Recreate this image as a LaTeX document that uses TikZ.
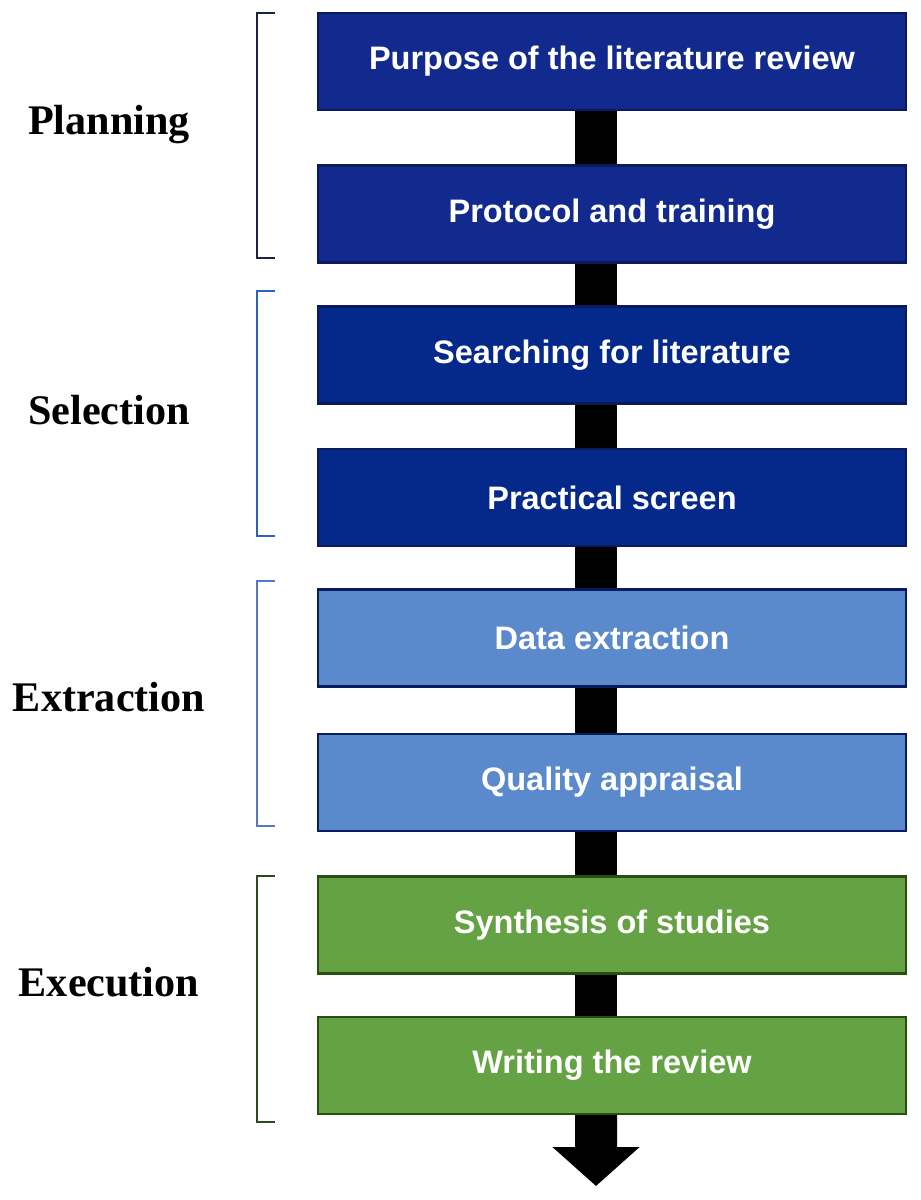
\documentclass[tikz,border=0pt]{standalone}
\usepackage{fontspec}
\setmainfont{Liberation Serif}
\setsansfont{Liberation Sans}
\usepackage{xcolor}
\usepackage{tikz}
\usetikzlibrary{arrows.meta, positioning}

\definecolor{planblue}{HTML}{122A8D}
\definecolor{selblue}{HTML}{04298A}
\definecolor{extblue}{HTML}{5A8ACB}
\definecolor{exegreen}{HTML}{65A243}
\definecolor{navyline}{HTML}{0A1A5C}
\definecolor{greenline}{HTML}{2A4D14}
\definecolor{brkplan}{HTML}{1C2340}
\definecolor{brksel}{HTML}{2B63BA}
\definecolor{brkext}{HTML}{5677C6}
\definecolor{brkexe}{HTML}{2E4A1C}

\begin{document}
\begin{tikzpicture}[
			x=0.02cm, y=-0.02cm,
			box/.style={minimum width=11.76cm, minimum height=1.94cm, inner sep=0pt,
				line width=1.2pt, text=white,
				font=\sffamily\bfseries\fontsize{18.5}{22}\selectfont},
			plan/.style={box, fill=planblue, draw=navyline},
			sel/.style={box, fill=selblue, draw=navyline},
			ext/.style={box, fill=extblue, draw=navyline},
			exe/.style={box, fill=exegreen, draw=greenline},
			phase/.style={font=\bfseries\fontsize{24}{28}\selectfont},
			bracket/.style={line width=1.1pt},
			shaft/.style={draw=black, line width=0.84cm}
			]
			\useasboundingbox (0,0) rectangle (920,1200);
			\def\sx{-0.32cm}
			\foreach \n/\y/\sty/\txt in {1/61.5/plan/{Purpose of the literature review},
				2/214/plan/{Protocol and training}, 3/355/sel/{Searching for literature},
				4/497.5/sel/{Practical screen}, 5/638/ext/{Data extraction},
				6/782.5/ext/{Quality appraisal}, 7/925/exe/{Synthesis of studies},
				8/1065.5/exe/{Writing the review}}{
				\node[\sty] (b\n) at (612,\y) {\txt};
			}
			\foreach \i/\j in {1/2, 2/3, 3/4, 4/5, 5/6, 6/7, 7/8}{
				\draw[shaft] ([xshift=\sx]b\i.south) -- ([xshift=\sx]b\j.north);
			}
			\coordinate (tip) at (596,1186);
			\draw[shaft, -{Triangle[width=1.7cm, length=0.78cm]}] ([xshift=\sx]b8.south) -- (tip);
			\foreach \lab/\y/\col/\top/\bot in {Planning/125/brkplan/13/258,
				Selection/410/brksel/291/536, Extraction/697/brkext/581/826,
				Execution/982/brkexe/876/1122}{
				\node[phase] (p\lab) at (109,\y) {\lab};
				\draw[bracket, \col] (275,\top) -- (257,\top) -- (257,\bot) -- (275,\bot);
			}
		\end{tikzpicture}
\end{document}
